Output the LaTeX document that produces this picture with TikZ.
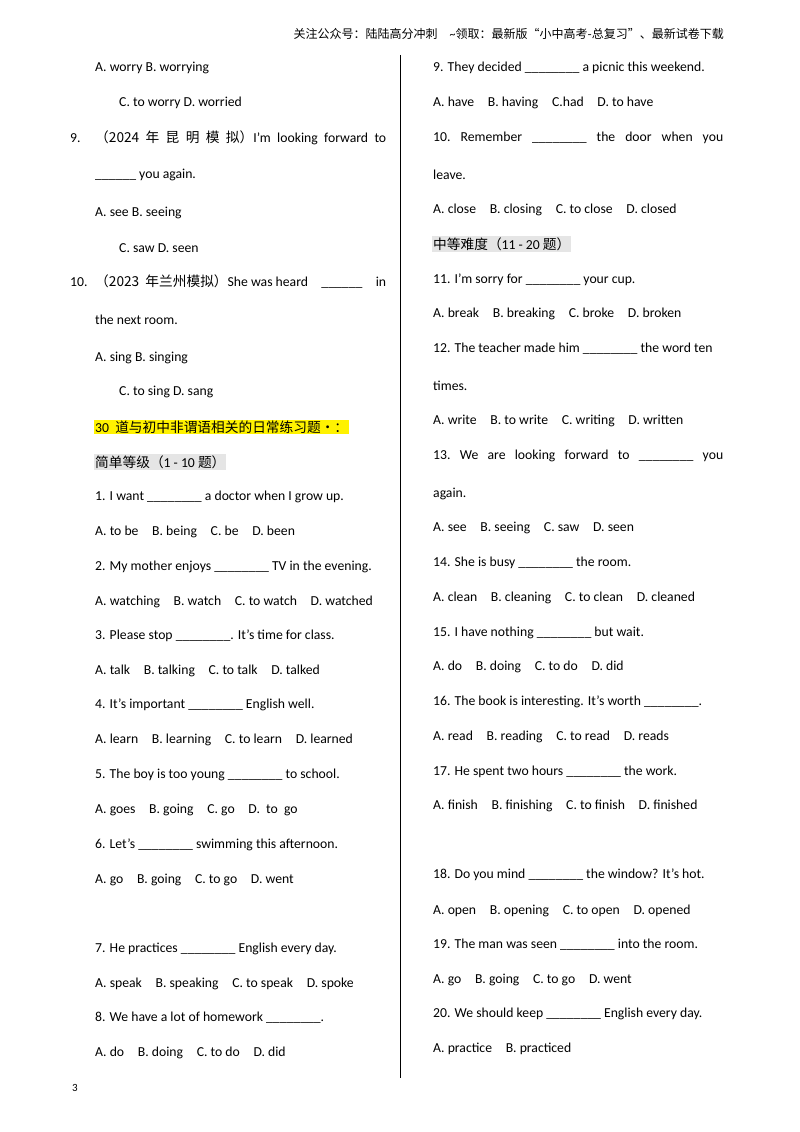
\documentclass[tikz,border=0pt]{standalone}
\usepackage{fontspec}
\setmainfont{Carlito}
\newfontfamily\zhf{Noto Sans CJK SC}
\newcommand{\bl}{\_\_\_\_\_\_\_\_}
\newcommand{\bsh}{\_\_\_\_\_\_}
\begin{document}
\begin{tikzpicture}[x=1pt,y=-1pt,
  t/.style={anchor=west,inner sep=0pt,font=\fontsize{13.7}{16}\selectfont},
  h/.style={anchor=west,inner sep=1pt,font=\fontsize{13.7}{16}\selectfont}]
\useasboundingbox (0,0) rectangle (800,1132);
\fill[white] (0,0) rectangle (800,1132);
\node[t,anchor=east] (hd) at (724,34) {\fontsize{12}{14}\selectfont\zhf 关注公众号：陆陆高分冲刺\quad {\rmfamily\char"7E}领取：最新版“小中高考-总复习”、最新试卷下载};
\draw[line width=0.6pt] (400,55) -- (400,1078);
\node[t,font=\fontsize{11}{13}\selectfont] (pg) at (72,1088) {3};
% left column
\node[t] (l1) at (95,68) {A. worry B. worrying};
\node[t] (l2) at (119,103) {C. to worry D. worried};
\node[t] (l3n) at (70,138) {9.};
\node[t] (l3) at (95,138) {\hbox to 291pt{{\zhf（2024\hfill 年\hfill 昆\hfill 明\hfill 模\hfill 拟）}I'm\hfill looking\hfill forward\hfill to}};
\node[t] (l4) at (95,175) {\bsh{} you again.};
\node[t] (l5) at (95,213) {A. see B. seeing};
\node[t] (l6) at (119,248) {C. saw D. seen};
\node[t] (l7n) at (70,282) {10.};
\node[t] (l7) at (95,282) {\hbox to 291pt{{\zhf（2023\ \ 年兰州模拟）}She was heard\hfill\bsh\hfill in}};
\node[t] (l8) at (95,320) {the next room.};
\node[t] (l9) at (95,358) {A. sing B. singing};
\node[t] (l10) at (119,392) {C. to sing D. sang};
\node[h,fill=yellow] (l11) at (94,427) {30\ \ {\zhf 道与初中非谓语相关的日常练习题•：}};
\node[h,fill=black!10] (l12) at (94,462) {{\zhf 简单等级（}1 - 10\ {\zhf 题）}};
\node[t] (q1) at (95,497) {1. I want \bl{} a doctor when I grow up.};
\node[t] (a1) at (95,532) {A. to be\quad B. being\quad C. be\quad D. been};
\node[t] (q2) at (95,567) {2. My mother enjoys \bl{} TV in the evening.};
\node[t] (a2) at (95,602) {A. watching\quad B. watch\quad C. to watch\quad D. watched};
\node[t] (q3) at (95,636) {3. Please stop \bl. It's time for class.};
\node[t] (a3) at (95,671) {A. talk\quad B. talking\quad C. to talk\quad D. talked};
\node[t] (q4) at (95,705) {4. It's important \bl{} English well.};
\node[t] (a4) at (95,740) {A. learn\quad B. learning\quad C. to learn\quad D. learned};
\node[t] (q5) at (95,775) {5. The boy is too young \bl{} to school.};
\node[t] (a5) at (95,810) {A. goes\quad B. going\quad C. go\quad D.\ \ to\ \ go};
\node[t] (q6) at (95,845) {6. Let's \bl{} swimming this afternoon.};
\node[t] (a6) at (95,880) {A. go\quad B. going\quad C. to go\quad D. went};
\node[t] (q7) at (95,949) {7. He practices \bl{} English every day.};
\node[t] (a7) at (95,984) {A. speak\quad B. speaking\quad C. to speak\quad D. spoke};
\node[t] (q8) at (95,1018) {8. We have a lot of homework \bl.};
\node[t] (a8) at (95,1053) {A. do\quad B. doing\quad C. to do\quad D. did};
% right column
\node[t] (r1) at (433,68) {9. They decided \bl{} a picnic this weekend.};
\node[t] (r2) at (433,103) {A. have\quad B. having\quad C.had\quad D. to have};
\node[t] (r3) at (433,138) {\hbox to 290pt{10.\hfill Remember\hfill \bl\hfill the\hfill door\hfill when\hfill you}};
\node[t] (r4) at (433,175) {leave.};
\node[t] (r5) at (433,210) {A. close\quad B. closing\quad C. to close\quad D. closed};
\node[h,fill=black!10] (r6) at (432,244) {{\zhf 中等难度（}11 - 20\ {\zhf 题）}};
\node[t] (s11) at (433,280) {11. I'm sorry for \bl{} your cup.};
\node[t] (b11) at (433,314) {A. break\quad B. breaking\quad C. broke\quad D. broken};
\node[t] (s12) at (433,349) {12. The teacher made him \bl{} the word ten};
\node[t] (s12b) at (433,386) {times.};
\node[t] (b12) at (433,421) {A. write\quad B. to write\quad C. writing\quad D. written};
\node[t] (s13) at (433,456) {\hbox to 290pt{13.\hfill We\hfill are\hfill looking\hfill forward\hfill to\hfill \bl\hfill you}};
\node[t] (s13b) at (433,494) {again.};
\node[t] (b13) at (433,528) {A. see\quad B. seeing\quad C. saw\quad D. seen};
\node[t] (s14) at (433,563) {14. She is busy \bl{} the room.};
\node[t] (b14) at (433,598) {A. clean\quad B. cleaning\quad C. to clean\quad D. cleaned};
\node[t] (s15) at (433,633) {15. I have nothing \bl{} but wait.};
\node[t] (b15) at (433,667) {A. do\quad B. doing\quad C. to do\quad D. did};
\node[t] (s16) at (433,702) {16. The book is interesting. It's worth \bl.};
\node[t] (b16) at (433,737) {A. read\quad B. reading\quad C. to read\quad D. reads};
\node[t] (s17) at (433,772) {17. He spent two hours \bl{} the work.};
\node[t] (b17) at (433,806) {A. finish\quad B. finishing\quad C. to finish\quad D. finished};
\node[t] (s18) at (433,875) {18. Do you mind \bl{} the window? It's hot.};
\node[t] (b18) at (433,911) {A. open\quad B. opening\quad C. to open\quad D. opened};
\node[t] (s19) at (433,945) {19. The man was seen \bl{} into the room.};
\node[t] (b19) at (433,980) {A. go\quad B. going\quad C. to go\quad D. went};
\node[t] (s20) at (433,1014) {20. We should keep \bl{} English every day.};
\node[t] (b20) at (433,1049) {A. practice\quad B. practiced};
\end{tikzpicture}
\end{document}
